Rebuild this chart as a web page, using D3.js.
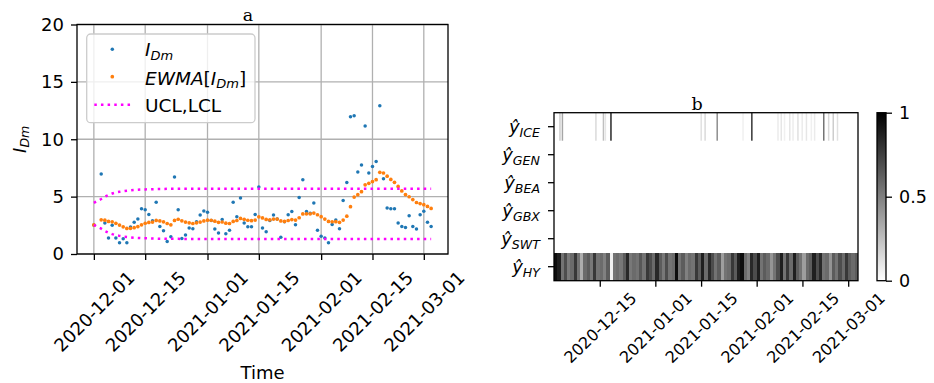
<!DOCTYPE html>
<html>
<head>
<meta charset="utf-8">
<script src="https://cdn.jsdelivr.net/npm/d3@7"></script>
<style>
  body { margin: 0; background: #fff; }
  text { font-family: "DejaVu Sans", sans-serif; fill: #000; }
</style>
</head>
<body>
<svg id="fig" width="934" height="383"></svg>
<script>
// ---------- panel a: daily index, its EWMA and control limits ----------
const seriesStart = "2020-12-01";
const seriesEnd = "2021-03-03";
const missingDates = ["2020-12-02"];

const idmValues = [
  2.53,
  6.97, 2.70, 1.40, 2.50, 1.40, 0.97, 1.32, 0.97, 2.36, 2.76,
  3.05, 3.95, 3.86, 3.45, 2.90, 4.50, 2.40, 2.03, 1.10, 1.50,
  6.70, 3.86, 1.34, 1.65, 2.26, 2.20, 2.80, 3.40, 3.74, 3.63,
  2.93, 2.18, 1.83, 3.00, 1.77, 2.06, 4.50, 3.25, 4.88, 2.70,
  2.38, 2.38, 3.45, 5.83, 2.26, 1.94, 2.93, 3.40, 3.05, 1.45,
  2.80, 3.42, 3.70, 2.55, 4.93, 6.47, 3.70, 3.55, 4.44, 2.06,
  1.54, 1.39, 0.99, 2.58, 2.96, 2.20, 4.67, 6.24, 11.96, 12.05,
  7.14, 7.75, 11.15, 7.05, 7.63, 8.07, 12.92, 6.56, 4.00, 3.95,
  3.95, 2.70, 2.40, 2.30, 3.34, 2.40, 2.18, 3.42, 3.72, 2.76,
  2.40
];

const ewmaValues = [
  2.53,
  2.98, 2.95, 2.84, 2.80, 2.67, 2.52, 2.37, 2.23, 2.24, 2.29,
  2.39, 2.54, 2.68, 2.75, 2.78, 2.93, 2.88, 2.80, 2.66, 2.54,
  2.93, 3.03, 2.89, 2.78, 2.72, 2.66, 2.72, 2.78, 2.88, 2.95,
  2.94, 2.86, 2.76, 2.79, 2.69, 2.66, 2.84, 2.92, 3.10, 3.02,
  2.94, 2.90, 2.96, 3.24, 3.14, 3.01, 2.98, 3.04, 3.04, 2.88,
  2.84, 2.92, 3.00, 2.96, 3.16, 3.49, 3.50, 3.50, 3.57, 3.42,
  3.25, 3.04, 2.84, 2.81, 2.82, 2.76, 2.96, 3.30, 4.12, 4.96,
  5.17, 5.43, 6.03, 6.16, 6.31, 6.48, 7.12, 7.06, 6.78, 6.50,
  6.25, 5.89, 5.50, 5.18, 4.99, 4.74, 4.49, 4.39, 4.30, 4.15,
  3.97
];

const uclValues = [
  4.46, 4.79, 5.00, 5.15, 5.27, 5.36, 5.42, 5.48, 5.52, 5.55,
  5.58, 5.60, 5.62, 5.63, 5.64, 5.65, 5.66, 5.67, 5.67, 5.68,
  5.68, 5.68, 5.68, 5.69, 5.69, 5.69, 5.69, 5.69, 5.69, 5.69,
  5.69, 5.69, 5.69, 5.69, 5.69, 5.69, 5.69, 5.69, 5.69, 5.69,
  5.69, 5.69, 5.69, 5.69, 5.69, 5.69, 5.69, 5.69, 5.69, 5.69,
  5.69, 5.69, 5.69, 5.69, 5.69, 5.69, 5.69, 5.69, 5.69, 5.69,
  5.69, 5.69, 5.69, 5.69, 5.69, 5.69, 5.69, 5.69, 5.69, 5.69,
  5.69, 5.69, 5.69, 5.69, 5.69, 5.69, 5.69, 5.69, 5.69, 5.69,
  5.69, 5.69, 5.69, 5.69, 5.69, 5.69, 5.69, 5.69, 5.69, 5.69,
  5.69, 5.69
];

const lclValues = [
  2.54, 2.21, 2.00, 1.85, 1.73, 1.64, 1.58, 1.52, 1.48, 1.45,
  1.42, 1.40, 1.38, 1.37, 1.36, 1.35, 1.34, 1.33, 1.33, 1.32,
  1.32, 1.32, 1.32, 1.31, 1.31, 1.31, 1.31, 1.31, 1.31, 1.31,
  1.31, 1.31, 1.31, 1.31, 1.31, 1.31, 1.31, 1.31, 1.31, 1.31,
  1.31, 1.31, 1.31, 1.31, 1.31, 1.31, 1.31, 1.31, 1.31, 1.31,
  1.31, 1.31, 1.31, 1.31, 1.31, 1.31, 1.31, 1.31, 1.31, 1.31,
  1.31, 1.31, 1.31, 1.31, 1.31, 1.31, 1.31, 1.31, 1.31, 1.31,
  1.31, 1.31, 1.31, 1.31, 1.31, 1.31, 1.31, 1.31, 1.31, 1.31,
  1.31, 1.31, 1.31, 1.31, 1.31, 1.31, 1.31, 1.31, 1.31, 1.31,
  1.31, 1.31
];

const xTickLabels = ["2020-12-01", "2020-12-15", "2021-01-01", "2021-01-15",
                     "2021-02-01", "2021-02-15", "2021-03-01"];
const yTickValues = [0, 5, 10, 15, 20];

// ---------- panel b: per-class probabilities over time ----------
const heatRows = ["ICE", "GEN", "BEA", "GBX", "SWT", "HY"];
const heatStart = "2020-12-01";
const heatEnd = "2021-03-04";
// daily probability of class HY
const hyValues = [
  0.95, 0.88, 0.55, 0.70, 0.52, 0.58, 0.78, 0.55, 0.32, 0.58,
  0.64, 0.53, 0.78, 0.55, 0.58, 0.50, 0.64, 0.06, 0.55, 0.58,
  0.53, 0.64, 0.84, 0.53, 0.58, 0.55, 0.66, 0.55, 0.78, 0.70,
  0.58, 0.84, 0.64, 0.53, 0.70, 0.55, 0.58, 0.95, 0.55, 0.64,
  0.50, 0.58, 0.55, 0.78, 0.64, 0.88, 0.58, 0.84, 0.70, 0.55,
  0.64, 0.38, 0.55, 0.58, 0.78, 0.64, 0.88, 0.95, 0.58, 0.50,
  0.84, 0.70, 0.88, 0.55, 0.64, 0.58, 0.42, 0.55, 0.70, 0.88,
  0.55, 0.78, 0.58, 0.88, 0.64, 0.55, 0.38, 0.58, 0.64, 0.88,
  0.70, 0.84, 0.55, 0.58, 0.42, 0.64, 0.55, 0.70, 0.58, 0.78,
  0.64, 0.58, 0.64
];
// short episodes where class ICE gets a non-zero probability (days after start, value)
const iceDays   = [1.6, 2.35, 12.6, 14.9, 15.5, 17.2, 44.8, 46.0, 49.7, 57.6, 60.3,
                   68.3, 69.3, 70.3, 71.9, 72.9, 74.4, 75.7, 77.0, 78.5, 79.5,
                   82.3, 83.8, 85.2, 86.5];
const iceValues = [0.20, 0.35, 0.15, 0.25, 0.10, 0.85, 0.12, 0.15, 0.45, 0.06, 0.80,
                   0.08, 0.10, 0.06, 0.10, 0.07, 0.12, 0.08, 0.10, 0.06, 0.08,
                   0.55, 0.15, 0.20, 0.12];
const heatTickLabels = ["2020-12-15", "2021-01-01", "2021-01-15", "2021-02-01",
                        "2021-02-15", "2021-03-01"];
const colorbarTicks = [0, 0.5, 1];

// ---------- drawing ----------
const parse = d3.utcParse("%Y-%m-%d");
const fmt = d3.utcFormat("%Y-%m-%d");
const svg = d3.select("#fig");

const dates = d3.utcDay.range(parse(seriesStart), d3.utcDay.offset(parse(seriesEnd), 1))
  .filter(d => !missingDates.includes(fmt(d)));
const rows = dates.map((d, i) => ({
  date: d, idm: idmValues[i], ewma: ewmaValues[i], ucl: uclValues[i], lcl: lclValues[i]
}));

const A = { left: 77, right: 448, top: 24.5, bottom: 254 };
const t0 = dates[0], t1 = dates[dates.length - 1];
const span = t1 - t0;
const x = d3.scaleUtc()
  .domain([new Date(+t0 - 0.05 * span), new Date(+t1 + 0.05 * span)])
  .range([A.left, A.right]);
const y = d3.scaleLinear().domain([0, 20]).range([A.bottom, A.top]);

const gA = svg.append("g");
const gridColor = "#b0b0b0";
const xTicks = xTickLabels.map(parse);

// grid
gA.append("g").selectAll("line.v").data(xTicks).join("line")
  .attr("x1", d => x(d)).attr("x2", d => x(d))
  .attr("y1", A.top).attr("y2", A.bottom)
  .attr("stroke", gridColor).attr("stroke-width", 1.3);
gA.append("g").selectAll("line.h").data(yTickValues).join("line")
  .attr("x1", A.left).attr("x2", A.right)
  .attr("y1", d => y(d)).attr("y2", d => y(d))
  .attr("stroke", gridColor).attr("stroke-width", 1.3);

// data marks
gA.append("g").selectAll("circle").data(rows).join("circle")
  .attr("cx", d => x(d.date)).attr("cy", d => y(d.idm)).attr("r", 1.75)
  .attr("fill", "#1f77b4");
gA.append("g").selectAll("circle").data(rows).join("circle")
  .attr("cx", d => x(d.date)).attr("cy", d => y(d.ewma)).attr("r", 1.85)
  .attr("fill", "#ff7f0e");
const limitLine = key => d3.line().x(d => x(d.date)).y(d => y(d[key]));
["ucl", "lcl"].forEach(k => {
  gA.append("path").datum(rows).attr("d", limitLine(k))
    .attr("fill", "none").attr("stroke", "#ff00ff")
    .attr("stroke-width", 2.5).attr("stroke-dasharray", "2.5,4.15");
});

// axes
const axX = gA.append("g").attr("transform", `translate(0,${A.bottom})`)
  .call(d3.axisBottom(x).tickValues(xTicks).tickFormat(fmt).tickSize(6));
axX.select(".domain").remove();
axX.selectAll(".tick line").attr("stroke-width", 1.3);
axX.selectAll(".tick text")
  .attr("y", 0).attr("dy", "0.35em")
  .attr("text-anchor", "middle")
  .attr("transform", "translate(0,57.5) rotate(-45)")
  .style("font-size", "18px");

const axY = gA.append("g").attr("transform", `translate(${A.left},0)`)
  .call(d3.axisLeft(y).tickValues(yTickValues).tickSize(6).tickPadding(7));
axY.select(".domain").remove();
axY.selectAll(".tick line").attr("stroke-width", 1.3);
axY.selectAll(".tick text").style("font-size", "18px");

gA.append("rect").attr("x", A.left).attr("y", A.top)
  .attr("width", A.right - A.left).attr("height", A.bottom - A.top)
  .attr("fill", "none").attr("stroke", "#000").attr("stroke-width", 1.3);

// axis labels and title
gA.append("text").attr("x", (A.left + A.right) / 2).attr("y", 379)
  .attr("text-anchor", "middle").style("font-size", "18px").text("Time");

const yl = gA.append("text")
  .attr("transform", `translate(25.5,${(A.top + A.bottom) / 2}) rotate(-90)`)
  .attr("text-anchor", "middle").style("font-size", "18px");
yl.append("tspan").attr("font-style", "italic").text("I");
yl.append("tspan").attr("font-style", "italic").attr("font-size", "12.6px")
  .attr("dy", 3.5).text("Dm");

gA.append("text").attr("x", 248).attr("y", 20.5).attr("text-anchor", "middle")
  .style("font-family", "'DejaVu Serif', serif").style("font-size", "17.5px").text("a");

// legend
const lg = gA.append("g");
lg.append("rect").attr("x", 86.7).attr("y", 34).attr("width", 168.3).attr("height", 88.7)
  .attr("rx", 4).attr("fill", "#fff").attr("fill-opacity", 0.8)
  .attr("stroke", "#cccccc").attr("stroke-width", 1.3);
lg.append("circle").attr("cx", 112.3).attr("cy", 49.3).attr("r", 1.75).attr("fill", "#1f77b4");
lg.append("circle").attr("cx", 112.3).attr("cy", 76.7).attr("r", 1.85).attr("fill", "#ff7f0e");
lg.append("line").attr("x1", 94.3).attr("x2", 131).attr("y1", 104.7).attr("y2", 104.7)
  .attr("stroke", "#ff00ff").attr("stroke-width", 2.5).attr("stroke-dasharray", "2.5,4.15");

const l1 = lg.append("text").attr("x", 145).attr("y", 56).style("font-size", "18.5px");
l1.append("tspan").attr("font-style", "italic").text("I");
l1.append("tspan").attr("font-style", "italic").attr("font-size", "13px").attr("dy", 3.5).text("Dm");

const l2 = lg.append("text").attr("x", 145).attr("y", 84.5).style("font-size", "18.5px");
l2.append("tspan").attr("font-style", "italic").text("EWMA");
l2.append("tspan").text("[");
l2.append("tspan").attr("font-style", "italic").text("I");
l2.append("tspan").attr("font-style", "italic").attr("font-size", "13px").attr("dy", 3.5).text("Dm");
l2.append("tspan").attr("dy", -3.5).text("]");

lg.append("text").attr("x", 145).attr("y", 111.5).style("font-size", "18.5px").text("UCL,LCL");

// ---------- panel b ----------
const B = { left: 554, right: 858, top: 112.7, bottom: 280.7 };
const gB = svg.append("g");
const hx = d3.scaleUtc().domain([parse(heatStart), parse(heatEnd)]).range([B.left, B.right]);
const hy = d3.scaleBand().domain(heatRows).range([B.top, B.bottom]);
const shade = d3.scaleLinear().domain([0, 1]).range(["#ffffff", "#000000"]);
const dayMs = 864e5;
const h0 = +parse(heatStart);

gB.append("rect").attr("x", B.left).attr("y", B.top)
  .attr("width", B.right - B.left).attr("height", B.bottom - B.top).attr("fill", shade(0));

const hyCells = hyValues.map((v, i) => ({ t: i, w: 1, v }));
gB.append("g").selectAll("rect").data(hyCells).join("rect")
  .attr("x", d => hx(new Date(h0 + d.t * dayMs)))
  .attr("width", d => hx(new Date(h0 + (d.t + d.w) * dayMs)) - hx(new Date(h0 + d.t * dayMs)) + 0.4)
  .attr("y", hy("HY")).attr("height", hy.bandwidth())
  .attr("fill", d => shade(d.v)).attr("shape-rendering", "crispEdges");

const iceCells = iceDays.map((t, i) => ({ t, w: 0.45, v: iceValues[i] }));
gB.append("g").selectAll("rect").data(iceCells).join("rect")
  .attr("x", d => hx(new Date(h0 + d.t * dayMs)))
  .attr("width", d => Math.max(1, hx(new Date(h0 + (d.t + d.w) * dayMs)) - hx(new Date(h0 + d.t * dayMs))))
  .attr("y", hy("ICE")).attr("height", hy.bandwidth())
  .attr("fill", d => shade(d.v));

gB.append("rect").attr("x", B.left).attr("y", B.top)
  .attr("width", B.right - B.left).attr("height", B.bottom - B.top)
  .attr("fill", "none").attr("stroke", "#000").attr("stroke-width", 1.3);

const bxAxis = gB.append("g").attr("transform", `translate(0,${B.bottom})`)
  .call(d3.axisBottom(hx).tickValues(heatTickLabels.map(parse)).tickFormat(fmt).tickSize(6));
bxAxis.select(".domain").remove();
bxAxis.selectAll(".tick line").attr("stroke-width", 1.3);
bxAxis.selectAll(".tick text")
  .attr("y", 0).attr("dy", "0.35em").attr("text-anchor", "middle")
  .attr("transform", "translate(0,47) rotate(-44)")
  .style("font-size", "16px");

const byAxis = gB.append("g").attr("transform", `translate(${B.left},0)`)
  .call(d3.axisLeft(hy).tickSize(6).tickFormat(""));
byAxis.select(".domain").remove();
byAxis.selectAll(".tick line").attr("stroke-width", 1.3);
byAxis.selectAll(".tick").each(function (d) {
  const t = d3.select(this).append("text")
    .attr("x", -14).attr("y", 6).attr("text-anchor", "end").style("font-size", "18px");
  t.append("tspan").attr("font-style", "italic").text("ŷ");
  t.append("tspan").attr("font-style", "italic").attr("font-size", "12.6px").attr("dy", 4).text(d);
});

gB.append("text").attr("x", 697).attr("y", 109.5).attr("text-anchor", "middle")
  .style("font-family", "'DejaVu Serif', serif").style("font-size", "17.5px").text("b");

// colour bar
const C = { left: 877, width: 9 };
const grad = svg.append("defs").append("linearGradient").attr("id", "cbar")
  .attr("x1", 0).attr("y1", 1).attr("x2", 0).attr("y2", 0);
grad.append("stop").attr("offset", 0).attr("stop-color", shade(0));
grad.append("stop").attr("offset", 1).attr("stop-color", shade(1));
const cy = d3.scaleLinear().domain([0, 1]).range([B.bottom, B.top]);
gB.append("rect").attr("x", C.left).attr("y", B.top).attr("width", C.width)
  .attr("height", B.bottom - B.top).attr("fill", "url(#cbar)")
  .attr("stroke", "#000").attr("stroke-width", 1.3);
const cAxis = gB.append("g").attr("transform", `translate(${C.left + C.width},0)`)
  .call(d3.axisRight(cy).tickValues(colorbarTicks).tickSize(6).tickPadding(7)
    .tickFormat(d3.format("~g")));
cAxis.select(".domain").remove();
cAxis.selectAll(".tick line").attr("stroke-width", 1.3);
cAxis.selectAll(".tick text").style("font-size", "17.5px");
</script>
</body>
</html>
